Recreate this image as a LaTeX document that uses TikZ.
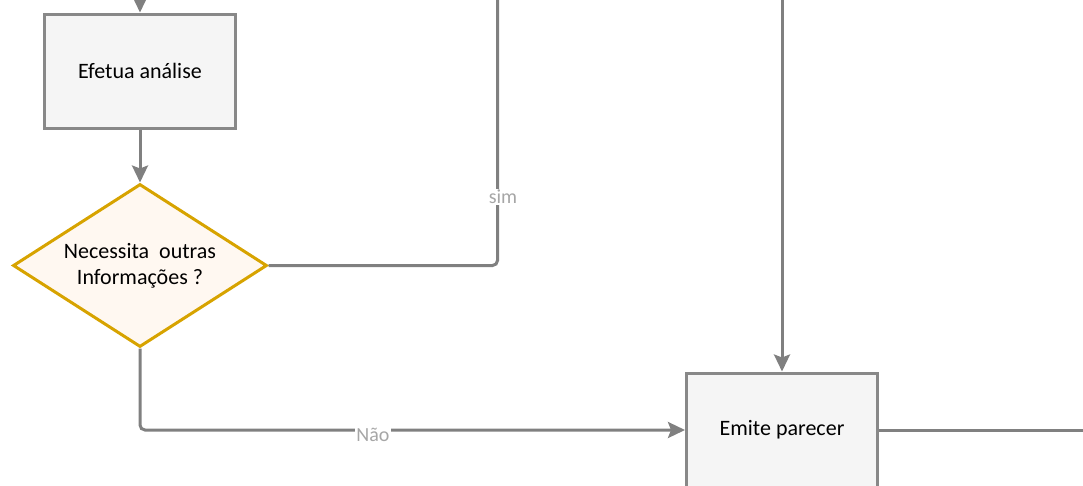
\documentclass[tikz,border=0pt]{standalone}
\usepackage{fontspec}
\setmainfont{Carlito}
\usetikzlibrary{shapes.geometric,arrows.meta}
\definecolor{boxfill}{HTML}{F5F5F5}
\definecolor{boxline}{HTML}{888888}
\definecolor{conn}{HTML}{808080}
\definecolor{decline}{HTML}{D7A300}
\definecolor{decfill}{HTML}{FFF8F1}
\definecolor{lbl}{HTML}{A6A6A6}
\tikzset{
  procbox/.style={draw=boxline, fill=boxfill, line width=3pt, minimum width=191pt, minimum height=114pt, inner sep=0pt, font=\fontsize{22}{25}\selectfont, align=center},
  decision/.style={diamond, draw=decline, fill=decfill, line width=3pt, minimum width=254pt, minimum height=163pt, inner sep=0pt, aspect=1.56, font=\fontsize{22}{26}\selectfont, align=center},
  conn/.style={draw=conn, line width=3pt, rounded corners=5pt},
  arr/.style={conn, -{Stealth[length=17pt 0 0, width=16pt 0 0, inset=3pt 0 0]}},
  elabel/.style={fill=white, text=lbl, font=\fontsize{20}{22}\selectfont, inner sep=1pt}
}
\begin{document}
\begin{tikzpicture}[x=1pt, y=-1pt]
\useasboundingbox (0,0) rectangle (1083,485);
\clip (0,0) rectangle (1083,485);
\node[procbox] (efetua) at (140,71) {Efetua análise};
\node[decision] (dec) at (140,265.5) {Necessita\ \ outras\\Informações ?};
\node[procbox] (emite) at (782,430) {Emite parecer};
\coordinate (topin) at (140,-2);
\coordinate (simtop) at (497.5,-2);
\coordinate (emtop) at (782,-2);
\coordinate (rightout) at (1086,430);
\coordinate (simcorner) at (497.5,265.5);
\coordinate (naocorner) at (140,430);
\draw[arr] (topin) -- (efetua.north);
\draw[arr] (efetua.south) -- (dec.north);
\draw[conn] (dec.east) -- (simcorner) -- (simtop);
\node[elabel] (simlbl) at (503,197) {sim};
\draw[arr] (dec.south) -- (naocorner) -- (emite.west);
\node[elabel] (naolbl) at (373,435) {Não};
\draw[arr] (emtop) -- (emite.north);
\draw[conn] (emite.east) -- (rightout);
\end{tikzpicture}
\end{document}
